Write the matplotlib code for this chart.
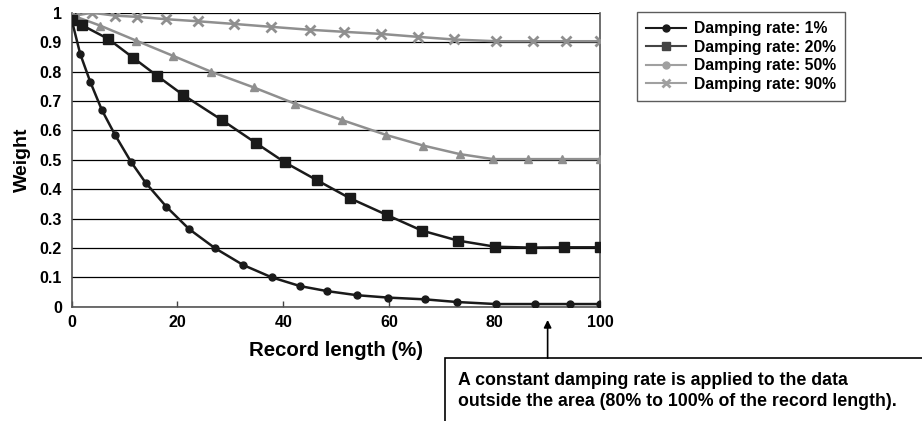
import matplotlib.pyplot as plt
from matplotlib.lines import Line2D

plt.rcParams["font.family"] = ["Liberation Sans", "DejaVu Sans"]
plt.rcParams["font.weight"] = "bold"

# record length (%) and weight
x_1 = [0, 1.6, 3.5, 5.7, 8.2, 11.2, 14.0, 17.9, 22.2, 27.1, 32.4, 37.8, 43.2, 48.3,
       54.0, 59.8, 66.8, 72.8, 80.2, 87.6, 94.3, 100]
w_1 = [0.975, 0.86, 0.765, 0.669, 0.584, 0.493, 0.421, 0.340, 0.264, 0.199, 0.142,
       0.100, 0.070, 0.053, 0.039, 0.031, 0.025, 0.016, 0.009, 0.009, 0.009, 0.009]

x_20 = [0, 2.0, 6.9, 11.6, 16.1, 21.0, 28.4, 34.9, 40.3, 46.4, 52.6, 59.6, 66.2,
        73.0, 80.1, 86.9, 93.1, 100]
w_20 = [0.975, 0.957, 0.911, 0.847, 0.786, 0.721, 0.635, 0.556, 0.491, 0.430, 0.369,
        0.312, 0.259, 0.225, 0.204, 0.201, 0.202, 0.202]

x_50 = [0, 1.0, 5.4, 12.2, 19.2, 26.4, 34.4, 42.3, 51.1, 59.5, 66.5, 73.4, 79.7,
        86.3, 92.7, 100]
w_50 = [1.0, 0.985, 0.956, 0.905, 0.853, 0.799, 0.746, 0.690, 0.635, 0.584, 0.548,
        0.519, 0.502, 0.502, 0.502, 0.502]

x_90 = [0, 0.6, 3.8, 8.2, 12.3, 17.8, 23.8, 30.6, 37.7, 45.0, 51.5, 58.4, 65.4, 72.2,
        80.2, 87.3, 93.5, 100]
w_90 = [1.0, 0.99, 1.0, 0.99, 0.986, 0.978, 0.971, 0.962, 0.952, 0.942, 0.935, 0.928,
        0.918, 0.909, 0.903, 0.903, 0.903, 0.903]

labels = ["Damping rate: 1%", "Damping rate: 20%", "Damping rate: 50%", "Damping rate: 90%"]
y_ticks = [0, 0.1, 0.2, 0.3, 0.4, 0.5, 0.6, 0.7, 0.8, 0.9, 1]
y_tick_labels = ["0", "0.1", "0.2", "0.3", "0.4", "0.5", "0.6", "0.7", "0.8", "0.9", "1"]
x_ticks = [0, 20, 40, 60, 80, 100]
note = ("A constant damping rate is applied to the data\n"
        "outside the area (80% to 100% of the record length).")

dark = "#1a1a1a"
grey = "#8f8f8f"

fig = plt.figure(figsize=(9.22, 4.21), dpi=100)
ax = fig.add_axes([0.0778, 0.2715, 0.5735, 0.6983])

ax.plot(x_1, w_1, color=dark, lw=1.8, marker="o", ms=5, zorder=4)
ax.plot(x_20, w_20, color=dark, lw=1.8, marker="s", ms=6.5, zorder=4)
ax.plot(x_50, w_50, color=grey, lw=1.8, marker="^", ms=6, zorder=3)
ax.plot(x_90, w_90, color=grey, lw=1.8, marker="x", ms=7, mew=2, zorder=3)

ax.set_xlim(0, 100)
ax.set_ylim(0, 1)
ax.set_yticks(y_ticks)
ax.set_yticklabels(y_tick_labels)
ax.set_xticks(x_ticks)
ax.tick_params(axis="y", length=0, pad=7, labelsize=11.5)
ax.tick_params(axis="x", direction="in", length=4, width=1, color="#444444",
               pad=6, labelsize=11.5)
ax.grid(axis="y", color="black", lw=0.9)
ax.set_axisbelow(True)
for side in ["left", "bottom", "right"]:
    ax.spines[side].set_color("#555555")
    ax.spines[side].set_linewidth(1.2)
ax.spines["top"].set_visible(False)

ax.set_xlabel("Record length (%)", fontsize=14.7, fontweight="bold", labelpad=8)
ax.set_ylabel("Weight", fontsize=14, fontweight="bold", labelpad=6)

# legend as drawn in the original (50% shown with a circle)
handles = [
    Line2D([], [], color=dark, lw=1.5, marker="o", ms=5),
    Line2D([], [], color="#444444", lw=1.5, marker="s", ms=6),
    Line2D([], [], color="#a0a0a0", lw=1.5, marker="o", ms=5),
    Line2D([], [], color="#a0a0a0", lw=1.5, marker="x", ms=6, mew=2),
]
leg = fig.legend(handles, labels, loc="upper left",
                 bbox_to_anchor=(637 / 922, 1 - 12 / 421), borderaxespad=0,
                 frameon=True, fancybox=False, edgecolor="#333333",
                 prop={"size": 11.3, "weight": "bold"}, handlelength=2.5,
                 handletextpad=0.5, labelspacing=0.22, borderpad=0.6)
leg.get_frame().set_linewidth(1.0)

# note box, cut off by the figure edge
box = plt.Rectangle((445 / 922, -0.05), 0.6, 1 - 358 / 421 + 0.05,
                    transform=fig.transFigure, fill=False, edgecolor="black", lw=1.2)
fig.patches.append(box)
fig.text(458 / 922, 1 - 391 / 421, note, fontsize=12.8, fontweight="bold",
         va="center", linespacing=1.3)
ax.annotate("", xy=(90, -0.045), xycoords=("data", "axes fraction"),
            xytext=(90, -0.175), textcoords=("data", "axes fraction"),
            arrowprops=dict(arrowstyle="-|>", color="black", lw=1.2,
                            mutation_scale=11, shrinkA=0, shrinkB=0),
            annotation_clip=False)

fig.savefig("out.png", dpi=100)
